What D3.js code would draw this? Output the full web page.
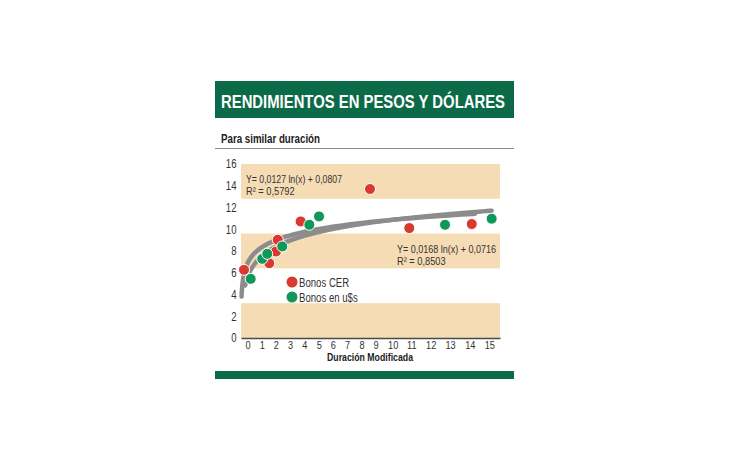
<!DOCTYPE html>
<html>
<head>
<meta charset="utf-8">
<script src="https://d3js.org/d3.v7.min.js"></script>
<style>
  body { margin: 0; background: #fff; }
  text { font-family: "Liberation Sans", Arial, sans-serif; }
</style>
</head>
<body>
<div class="chart"></div>
<script>
  var w = 730, h = 460;

  // data (yields in %)
  var cerX = [0.18, 1.69, 2.09, 2.20, 3.57, 7.72, 10.07, 13.81];
  var cerY = [6.27, 6.88, 7.95, 9.03, 10.72, 13.7, 10.11, 10.48];
  var usdX = [0.58, 1.27, 1.57, 2.47, 4.09, 4.67, 12.21, 15.0];
  var usdY = [5.44, 7.28, 7.74, 8.42, 10.41, 11.18, 10.41, 10.97];
  var fitCer = { a: 1.27, b: 8.07, from: 0.035, to: 14 };
  var fitUsd = { a: 1.68, b: 7.16, from: 0.25, to: 15 };
  var yTicks = [0, 2, 4, 6, 8, 10, 12, 14, 16];
  var bands = [[0, 3.2], [6.4, 9.6], [12.8, 16]];
  var xTickLabels = ["0","1","2","3","4","5","6","7","8","9","10","11","12","13","14","15"];
  var xTickPos = [0.40, 1.24, 2.09, 2.93, 3.79, 4.65, 5.49, 6.34, 7.22, 8.06, 9.08, 10.19, 11.35, 12.51, 13.69, 14.86];

  var red = "#d9392f", green = "#10975a", dark = "#0b6a47";

  var svg = d3.select(".chart").append("svg")
    .attr("width", w).attr("height", h);

  // squeeze a text so it looks like a narrow face
  function narrow(sel, k) {
    sel.each(function() {
      var len = this.getComputedTextLength();
      d3.select(this).attr("textLength", len * k).attr("lengthAdjust", "spacingAndGlyphs");
    });
  }

  var x = d3.scaleLinear().domain([0, 15.5]).range([241, 500]);
  var y = d3.scaleLinear().domain([0, 16]).range([338, 164]);

  // header
  svg.append("rect").attr("x", 215).attr("y", 81).attr("width", 299).attr("height", 37).attr("fill", dark);
  svg.append("text")
    .attr("x", 221).attr("y", 108)
    .attr("fill", "#fff").attr("font-size", 17.5).attr("font-weight", "bold")
    .attr("textLength", 284).attr("lengthAdjust", "spacingAndGlyphs")
    .text("RENDIMIENTOS EN PESOS Y DÓLARES");
  svg.append("text")
    .attr("x", 221).attr("y", 143)
    .attr("fill", "#222").attr("font-size", 13).attr("font-weight", "bold")
    .attr("textLength", 99).attr("lengthAdjust", "spacingAndGlyphs")
    .text("Para similar duración");
  svg.append("line")
    .attr("x1", 215).attr("x2", 514).attr("y1", 148.5).attr("y2", 148.5)
    .attr("stroke", "#8a8a8a").attr("stroke-width", 1);
  svg.append("rect").attr("x", 215).attr("y", 371).attr("width", 299).attr("height", 8).attr("fill", dark);

  // bands
  svg.selectAll(".band").data(bands).enter().append("rect")
    .attr("class", "band")
    .attr("x", x(0)).attr("width", x(15.5) - x(0))
    .attr("y", function(d) { return y(d[1]); })
    .attr("height", function(d) { return y(d[0]) - y(d[1]); })
    .attr("fill", "#f6dcb5");

  // y axis labels
  var yAxis = svg.append("g")
    .attr("transform", "translate(236.5,0)")
    .call(d3.axisLeft(y).tickValues(yTicks).tickSize(0).tickPadding(0));
  yAxis.select(".domain").remove();
  yAxis.selectAll("text").attr("font-size", 12).attr("fill", "#333")
    .style("font-family", "'Liberation Sans', Arial, sans-serif");
  narrow(yAxis.selectAll("text"), 0.8);

  // x axis
  var xAxis = svg.append("g")
    .attr("transform", "translate(0," + y(0) + ")")
    .call(d3.axisBottom(x).tickValues(xTickPos).tickSize(0).tickPadding(3)
      .tickFormat(function(d, i) { return xTickLabels[i]; }));
  xAxis.select(".domain").attr("stroke", "#4a4a4a").attr("stroke-width", 1.6);
  xAxis.selectAll("text").attr("font-size", 11.5).attr("fill", "#333")
    .style("font-family", "'Liberation Sans', Arial, sans-serif");
  narrow(xAxis.selectAll("text"), 0.8);
  svg.append("text")
    .attr("x", 370).attr("y", 361).attr("text-anchor", "middle")
    .attr("font-size", 11).attr("font-weight", "bold").attr("fill", "#222")
    .attr("textLength", 86).attr("lengthAdjust", "spacingAndGlyphs")
    .text("Duración Modificada");

  // trend curves
  var line = d3.line()
    .x(function(d) { return x(d[0]); })
    .y(function(d) { return y(d[1]); })
    .curve(d3.curveBasis);
  [fitUsd, fitCer].forEach(function(f) {
    var pts = d3.range(0, 101).map(function(i) {
      var t = Math.exp(Math.log(f.from) + (Math.log(f.to) - Math.log(f.from)) * i / 100);
      return [t, f.a * Math.log(t) + f.b];
    });
    svg.append("path").datum(pts)
      .attr("d", line)
      .attr("fill", "none").attr("stroke", "#8c8c8c")
      .attr("stroke-width", 4.5).attr("stroke-linecap", "round");
  });

  // points
  function dots(xs, ys, color) {
    svg.append("g").selectAll("circle").data(xs).enter().append("circle")
      .attr("cx", function(d) { return x(d); })
      .attr("cy", function(d, i) { return y(ys[i]); })
      .attr("r", 5.5)
      .attr("fill", color).attr("stroke", "#fff").attr("stroke-width", 1);
  }
  dots(cerX, cerY, red);
  dots(usdX, usdY, green);

  // equations
  function eq(x0, y0, l1, l2, wid) {
    var t = svg.append("g").attr("font-size", 11).attr("fill", "#333");
    t.append("text").attr("x", x0).attr("y", y0).text(l1)
      .attr("textLength", wid).attr("lengthAdjust", "spacingAndGlyphs");
    narrow(t.append("text").attr("x", x0).attr("y", y0 + 12).text(l2), 0.84);
  }
  eq(246, 183, "Y= 0,0127 ln(x) + 0,0807", "R² = 0,5792", 96);
  eq(397, 252.5, "Y= 0,0168 ln(x) + 0,0716", "R² = 0,8503", 99);

  // legend
  var legend = [["Bonos CER", red], ["Bonos en u$s", green]];
  var lg = svg.append("g").selectAll("g").data(legend).enter().append("g")
    .attr("transform", function(d, i) { return "translate(292," + (282 + i * 15) + ")"; });
  lg.append("circle").attr("r", 5.5).attr("fill", function(d) { return d[1]; });
  var lt = lg.append("text").attr("x", 7).attr("y", 4.5).attr("font-size", 12).attr("fill", "#333")
    .text(function(d) { return d[0]; });
  narrow(lt, 0.8);
</script>
</body>
</html>
